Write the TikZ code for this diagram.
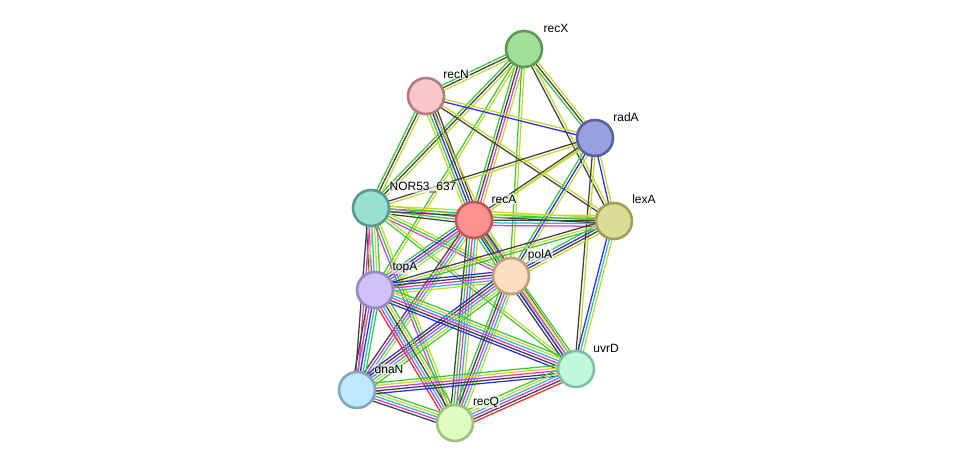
\documentclass[tikz,border=0pt]{standalone}
\usepackage{fontspec}
\setmainfont{Liberation Sans}
\usetikzlibrary{calc}
\pgfdeclarelayer{bg}
\pgfsetlayers{bg,main}
\definecolor{sG}{HTML}{3CC83C}
\definecolor{sK}{HTML}{404040}
\definecolor{sY}{HTML}{C4D830}
\definecolor{sM}{HTML}{D83CD8}
\definecolor{sC}{HTML}{30B8D8}
\definecolor{sB}{HTML}{2C2CF0}
\definecolor{sR}{HTML}{F02C2C}
\newcommand{\stredge}[3]{%
  \foreach \c [count=\n] in {#3}{\xdef\nn{\n}}%
  \foreach \c [count=\i] in {#3}{%
    \pgfmathsetmacro\off{(\i-(\nn+1)/2)*2.7}%
    \draw[\c, edgeline] ($(#1.center)!\off pt!90:(#2.center)$) -- ($(#2.center)!\off pt!-90:(#1.center)$);
  }}
\tikzset{
  prot/.style={circle, minimum size=36pt, inner sep=0pt, line width=2.6pt},
  lbl/.style={font=\fontsize{12}{14}\selectfont, inner sep=1pt, fill=white, fill opacity=0.6, text opacity=1},
  edgeline/.style={line width=1.25pt}
}
\begin{document}
\begin{tikzpicture}[x=1pt,y=-1pt]
\useasboundingbox (0,0) rectangle (975,469);
\node[prot, fill={rgb,255:red,160;green,224;blue,150}, draw={rgb,255:red,92;green,154;blue,92}] (recX) at (524,49) {};
\node[prot, fill={rgb,255:red,248;green,200;blue,200}, draw={rgb,255:red,176;green,128;blue,128}] (recN) at (426,96) {};
\node[prot, fill={rgb,255:red,152;green,160;blue,224}, draw={rgb,255:red,88;green,98;blue,158}] (radA) at (595,138) {};
\node[prot, fill={rgb,255:red,152;green,224;blue,212}, draw={rgb,255:red,88;green,154;blue,146}] (nor) at (371,208) {};
\node[prot, fill={rgb,255:red,255;green,144;blue,144}, draw={rgb,255:red,190;green,88;blue,88}] (recA) at (474,220) {};
\node[prot, fill={rgb,255:red,220;green,220;blue,152}, draw={rgb,255:red,160;green,160;blue,88}] (lexA) at (614,221) {};
\node[prot, fill={rgb,255:red,252;green,222;blue,192}, draw={rgb,255:red,190;green,160;blue,128}] (polA) at (511,276) {};
\node[prot, fill={rgb,255:red,208;green,192;blue,248}, draw={rgb,255:red,152;green,136;blue,192}] (topA) at (375,290) {};
\node[prot, fill={rgb,255:red,192;green,248;blue,220}, draw={rgb,255:red,128;green,192;blue,160}] (uvrD) at (576,369) {};
\node[prot, fill={rgb,255:red,192;green,232;blue,252}, draw={rgb,255:red,128;green,168;blue,192}] (dnaN) at (357,390) {};
\node[prot, fill={rgb,255:red,224;green,252;blue,192}, draw={rgb,255:red,160;green,192;blue,128}] (recQ) at (455,423) {};
\begin{pgfonlayer}{bg}
\fill[white] (0,0) rectangle (975,469);
\stredge{recX}{recN}{sG,sK,sY}
\stredge{recX}{radA}{sG,sK,sY}
\stredge{recX}{recA}{sG,sK,sM,sY}
\stredge{recX}{nor}{sG,sK,sY}
\stredge{recX}{topA}{sG,sY}
\stredge{recX}{polA}{sG,sY}
\stredge{recX}{lexA}{sK,sY}
\stredge{recN}{radA}{sB,sY}
\stredge{recN}{recA}{sY,sG,sB,sK,sK}
\stredge{recN}{nor}{sG,sK,sY}
\stredge{recN}{lexA}{sK,sY}
\stredge{recN}{polA}{sY}
\stredge{radA}{nor}{sK,sY}
\stredge{radA}{recA}{sK,sY}
\stredge{radA}{lexA}{sB,sY}
\stredge{radA}{polA}{sG,sB,sY}
\stredge{radA}{topA}{sY}
\stredge{radA}{uvrD}{sK,sY}
\stredge{nor}{recA}{sK,sG,sM,sY}
\stredge{nor}{lexA}{sK,sG,sY}
\stredge{nor}{polA}{sM,sG,sY}
\stredge{nor}{topA}{sK,sM,sC,sY,sG}
\stredge{nor}{dnaN}{sK,sM,sY}
\stredge{nor}{recQ}{sM,sG,sY}
\stredge{nor}{uvrD}{sG,sY}
\stredge{recA}{lexA}{sM,sC,sK,sG,sY}
\stredge{recA}{polA}{sG,sB,sK,sM,sC,sY}
\stredge{recA}{topA}{sG,sB,sM,sC,sY}
\stredge{recA}{dnaN}{sK,sM,sC,sY}
\stredge{recA}{recQ}{sK,sG,sM,sC,sY}
\stredge{recA}{uvrD}{sG,sY,sK}
\stredge{lexA}{polA}{sG,sB,sK,sY}
\stredge{lexA}{topA}{sK,sY,sG}
\stredge{lexA}{uvrD}{sB,sC,sY}
\stredge{polA}{topA}{sB,sK,sM,sC,sY}
\stredge{polA}{dnaN}{sB,sK,sM,sC,sY,sG}
\stredge{polA}{recQ}{sG,sK,sM,sC,sY}
\stredge{polA}{uvrD}{sK,sB,sM,sY,sG}
\stredge{topA}{dnaN}{sK,sM,sB,sC,sG}
\stredge{topA}{recQ}{sR,sM,sC,sK,sY,sG}
\stredge{topA}{uvrD}{sB,sK,sM,sC,sY,sG}
\stredge{dnaN}{recQ}{sK,sM,sC,sY,sG}
\stredge{dnaN}{uvrD}{sB,sK,sM,sY,sG}
\stredge{recQ}{uvrD}{sR,sK,sM,sC,sY,sG}
\end{pgfonlayer}
\node[lbl] (lrecX) at (556,28) {recX};
\node[lbl] (lrecN) at (456,74) {recN};
\node[lbl] (lradA) at (626,117) {radA};
\node[lbl] (lnor) at (423,187) {NOR53\_637};
\node[lbl] (lrecA) at (504,199) {recA};
\node[lbl] (llexA) at (644,199) {lexA};
\node[lbl] (lpolA) at (540,255) {polA};
\node[lbl] (ltopA) at (405,268) {topA};
\node[lbl] (luvrD) at (606,348) {uvrD};
\node[lbl] (ldnaN) at (389,369) {dnaN};
\node[lbl] (lrecQ) at (486,402) {recQ};
\end{tikzpicture}
\end{document}
